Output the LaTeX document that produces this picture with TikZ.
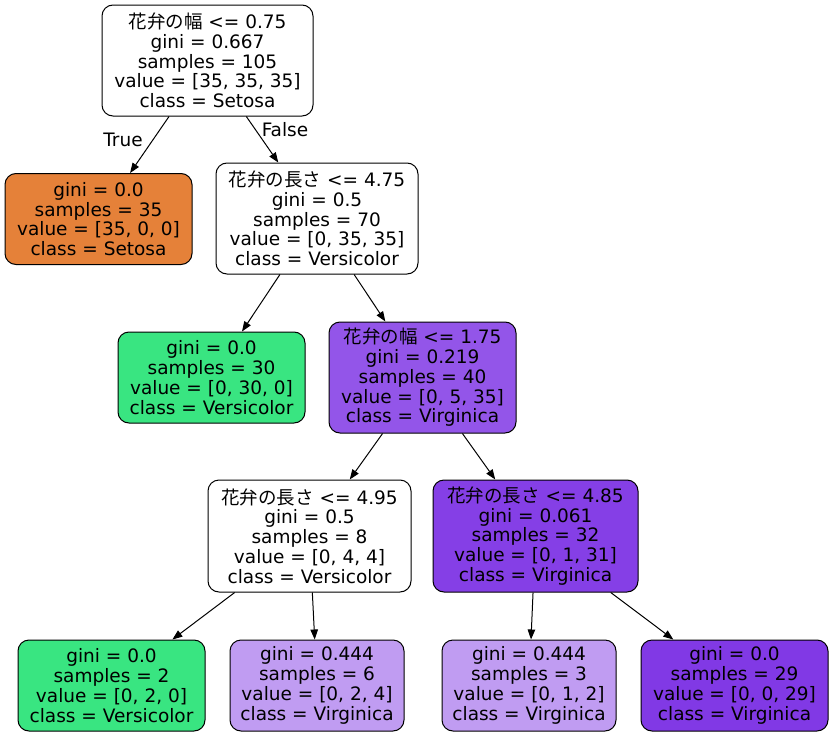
\documentclass[tikz,border=0pt]{standalone}
\usepackage{fontspec}
\setmainfont{DejaVu Sans}
\newfontfamily\jpfont{Noto Sans CJK JP}
\usetikzlibrary{arrows.meta}

% node fill colours of the iris tree
\definecolor{setosa}{HTML}{E58139}
\definecolor{versi}{HTML}{39E581}
\definecolor{virg}{HTML}{8139E5}
\definecolor{virgA}{HTML}{9355E9}
\definecolor{virgB}{HTML}{853FE6}
\definecolor{virgC}{HTML}{C09CF2}

\tikzset{
  tree/.style={draw=black, line width=1pt, rounded corners=11pt, align=center,
    inner sep=0pt, font=\fontsize{18.5}{19.75}\selectfont},
  split/.style={tree, minimum height=111pt},
  leaf/.style={tree, minimum height=91pt},
  edge/.style={line width=1pt, -{Triangle[length=10pt,width=7.5pt]}},
  elabel/.style={font=\fontsize{18.5}{19.75}\selectfont}
}

\newcommand{\pw}{{\jpfont 花弁の幅}}
\newcommand{\pl}{{\jpfont 花弁の長さ}}

\begin{document}
\begin{tikzpicture}[x=1pt,y=-1pt]
\useasboundingbox (0,0) rectangle (833,736);

\node[split, fill=white, minimum width=211pt] (root) at (207.5,60.5)
  {\pw\ <= 0.75\\gini = 0.667\\samples = 105\\value = [35, 35, 35]\\class = Setosa};
\node[leaf, fill=setosa, minimum width=187pt] (n1) at (98.5,219)
  {gini = 0.0\\samples = 35\\value = [35, 0, 0]\\class = Setosa};
\node[split, fill=white, minimum width=202pt] (n2) at (317,218.5)
  {\pl\ <= 4.75\\gini = 0.5\\samples = 70\\value = [0, 35, 35]\\class = Versicolor};
\node[leaf, fill=versi, minimum width=187pt] (n3) at (211.5,377.5)
  {gini = 0.0\\samples = 30\\value = [0, 30, 0]\\class = Versicolor};
\node[split, fill=virgA, minimum width=187pt] (n4) at (422.5,377.5)
  {\pw\ <= 1.75\\gini = 0.219\\samples = 40\\value = [0, 5, 35]\\class = Virginica};
\node[split, fill=white, minimum width=203pt, minimum height=112pt] (n5) at (309.5,536)
  {\pl\ <= 4.95\\gini = 0.5\\samples = 8\\value = [0, 4, 4]\\class = Versicolor};
\node[split, fill=virgB, minimum width=205pt, minimum height=112pt] (n6) at (535.5,536)
  {\pl\ <= 4.85\\gini = 0.061\\samples = 32\\value = [0, 1, 31]\\class = Virginica};
\node[leaf, fill=versi, minimum width=187pt] (n7) at (111.5,685.5)
  {gini = 0.0\\samples = 2\\value = [0, 2, 0]\\class = Versicolor};
\node[leaf, fill=virgC, minimum width=174pt] (n8) at (317,685.5)
  {gini = 0.444\\samples = 6\\value = [0, 2, 4]\\class = Virginica};
\node[leaf, fill=virgC, minimum width=174pt] (n9) at (529,685.5)
  {gini = 0.444\\samples = 3\\value = [0, 1, 2]\\class = Virginica};
\node[leaf, fill=virg, minimum width=187pt] (n10) at (734.5,685.5)
  {gini = 0.0\\samples = 29\\value = [0, 0, 29]\\class = Virginica};

\draw[edge] (root) -- (n1);
\draw[edge] (root) -- (n2);
\draw[edge] (n2) -- (n3);
\draw[edge] (n2) -- (n4);
\draw[edge] (n4) -- (n5);
\draw[edge] (n4) -- (n6);
\draw[edge] (n5) -- (n7);
\draw[edge] (n5) -- (n8);
\draw[edge] (n6) -- (n9);
\draw[edge] (n6) -- (n10);

\node[elabel] (ltrue) at (123,140) {True};
\node[elabel] (lfalse) at (285,130) {False};
\end{tikzpicture}
\end{document}
